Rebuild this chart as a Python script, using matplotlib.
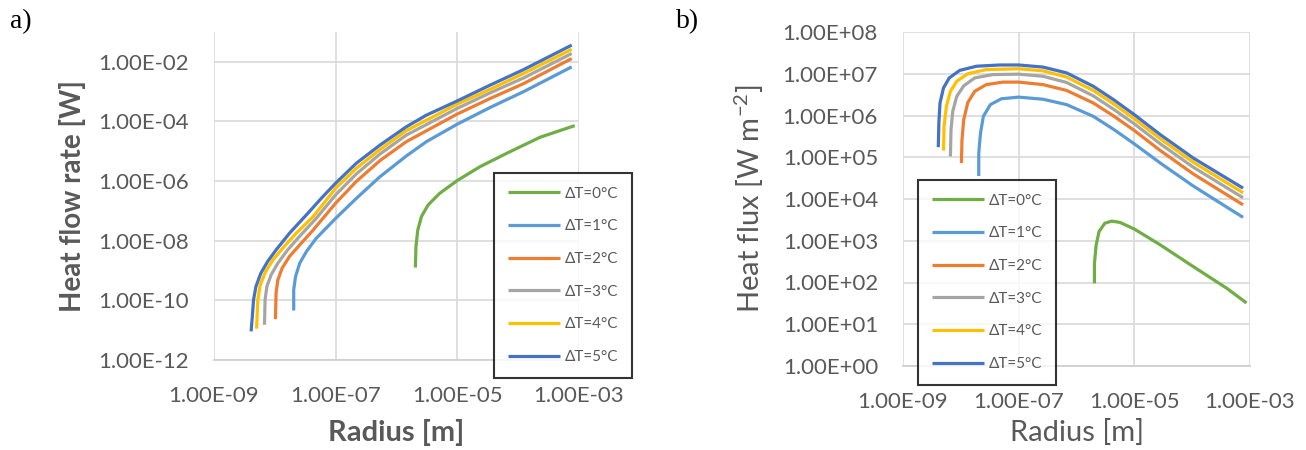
import numpy as np
import matplotlib
matplotlib.use("Agg")
import matplotlib.pyplot as plt

plt.rcParams['font.family'] = ['Lato', 'DejaVu Sans']
plt.rcParams['mathtext.fontset'] = 'custom'
plt.rcParams['mathtext.rm'] = 'Lato'

labels = ['ΔT=0°C', 'ΔT=1°C', 'ΔT=2°C', 'ΔT=3°C', 'ΔT=4°C', 'ΔT=5°C']
colors = ['#70AD47', '#5B9BD5', '#ED7D31', '#A5A5A5', '#FFC000', '#4472C4']

# a) heat flow rate, values as log10(radius [m]), log10(Q [W])
a_logr_0 = [-5.69, -5.68, -5.65, -5.59, -5.48, -5.29, -5.00, -4.63, -4.19, -3.64, -3.07]
a_logq_0 = [-8.90, -8.19, -7.64, -7.19, -6.80, -6.41, -5.98, -5.52, -5.07, -4.53, -4.14]
a_logr_1 = [-7.69, -7.69, -7.66, -7.59, -7.48, -7.32, -7.00, -6.66, -6.27, -5.84, -5.51, -5.00, -4.46, -3.91, -3.12]
a_logq_1 = [-10.34, -9.65, -9.20, -8.75, -8.36, -7.92, -7.25, -6.58, -5.85, -5.16, -4.68, -4.09, -3.53, -3.00, -2.17]
a_logr_2 = [-7.99, -7.98, -7.95, -7.88, -7.76, -7.59, -7.37, -7.00, -6.66, -6.27, -5.84, -5.00, -4.46, -3.91, -3.12]
a_logq_2 = [-10.63, -9.76, -9.31, -8.92, -8.53, -8.14, -7.64, -6.74, -6.01, -5.31, -4.68, -3.75, -3.23, -2.73, -1.89]
a_logr_3 = [-8.17, -8.16, -8.13, -8.06, -7.95, -7.79, -7.57, -7.32, -7.00, -6.66, -6.27, -5.84, -5.00, -4.46, -3.91, -3.12]
a_logq_3 = [-10.82, -9.98, -9.53, -9.14, -8.75, -8.31, -7.80, -7.25, -6.46, -5.76, -5.09, -4.46, -3.56, -3.04, -2.54, -1.72]
a_logr_4 = [-8.30, -8.28, -8.24, -8.15, -8.03, -7.87, -7.65, -7.37, -7.00, -6.66, -6.27, -5.84, -5.00, -4.46, -3.91, -3.12]
a_logq_4 = [-10.95, -9.98, -9.48, -9.03, -8.64, -8.25, -7.75, -7.19, -6.24, -5.57, -4.94, -4.31, -3.42, -2.92, -2.39, -1.58]
a_logr_5 = [-8.39, -8.37, -8.35, -8.31, -8.23, -8.12, -7.98, -7.76, -7.48, -7.21, -7.00, -6.66, -6.27, -5.84, -5.51, -5.00, -4.46, -3.91, -3.12]
a_logq_5 = [-11.04, -10.54, -9.98, -9.53, -9.09, -8.70, -8.31, -7.75, -7.13, -6.52, -6.07, -5.40, -4.79, -4.18, -3.79, -3.31, -2.78, -2.26, -1.44]

# b) heat flux, values as log10(radius [m]), log10(q [W m-2])
b_logr_0 = [-5.69, -5.69, -5.66, -5.61, -5.51, -5.39, -5.25, -5.00, -4.55, -3.98, -3.40, -3.06]
b_logq_0 = [1.98, 2.46, 2.90, 3.22, 3.42, 3.47, 3.44, 3.28, 2.90, 2.38, 1.86, 1.51]
b_logr_1 = [-7.69, -7.69, -7.66, -7.61, -7.49, -7.30, -7.00, -6.58, -6.17, -5.71, -5.36, -5.00, -4.55, -3.98, -3.12]
b_logq_1 = [4.55, 5.10, 5.58, 5.98, 6.26, 6.40, 6.44, 6.39, 6.26, 5.98, 5.67, 5.32, 4.86, 4.31, 3.56]
b_logr_2 = [-7.99, -7.98, -7.95, -7.88, -7.76, -7.56, -7.27, -7.00, -6.58, -6.17, -5.71, -5.36, -5.00, -4.55, -3.98, -3.12]
b_logq_2 = [4.86, 5.42, 5.90, 6.31, 6.58, 6.74, 6.80, 6.80, 6.74, 6.60, 6.30, 5.99, 5.64, 5.16, 4.60, 3.86]
b_logr_3 = [-8.18, -8.17, -8.14, -8.07, -7.95, -7.76, -7.45, -7.00, -6.58, -6.17, -5.71, -5.36, -5.00, -4.55, -3.98, -3.12]
b_logq_3 = [5.02, 5.66, 6.10, 6.46, 6.71, 6.90, 6.98, 6.99, 6.94, 6.79, 6.47, 6.15, 5.80, 5.32, 4.76, 4.03]
b_logr_4 = [-8.30, -8.29, -8.25, -8.18, -8.07, -7.88, -7.56, -7.00, -6.58, -6.17, -5.71, -5.36, -5.00, -4.55, -3.98, -3.12]
b_logq_4 = [5.16, 5.74, 6.22, 6.58, 6.82, 7.00, 7.10, 7.12, 7.07, 6.92, 6.60, 6.28, 5.92, 5.44, 4.88, 4.15]
b_logr_5 = [-8.39, -8.38, -8.36, -8.30, -8.20, -8.02, -7.73, -7.33, -7.00, -6.58, -6.17, -5.71, -5.36, -5.00, -4.55, -3.98, -3.12]
b_logq_5 = [5.24, 5.82, 6.30, 6.66, 6.90, 7.08, 7.18, 7.21, 7.21, 7.16, 7.02, 6.70, 6.38, 6.02, 5.54, 4.98, 4.26]

a_series = [(a_logr_0, a_logq_0), (a_logr_1, a_logq_1), (a_logr_2, a_logq_2),
            (a_logr_3, a_logq_3), (a_logr_4, a_logq_4), (a_logr_5, a_logq_5)]
b_series = [(b_logr_0, b_logq_0), (b_logr_1, b_logq_1), (b_logr_2, b_logq_2),
            (b_logr_3, b_logq_3), (b_logr_4, b_logq_4), (b_logr_5, b_logq_5)]

x_ticks = [1e-9, 1e-7, 1e-5, 1e-3]
a_yticks = [1e-12, 1e-10, 1e-8, 1e-6, 1e-4, 1e-2]
b_yticks = [1e0, 1e1, 1e2, 1e3, 1e4, 1e5, 1e6, 1e7, 1e8]

W, H = 1306, 450
fig = plt.figure(figsize=(W / 100, H / 100), dpi=100)
ax1 = fig.add_axes([214 / W, (H - 360) / H, 365 / W, 328 / H])
ax2 = fig.add_axes([903 / W, (H - 366) / H, 347 / W, 334 / H])

grey_txt = '#595959'
fmt = plt.FuncFormatter(lambda v, p: f"{v:.2E}")

def style(ax, yticks, ylim):
    ax.set_xscale('log')
    ax.set_yscale('log')
    ax.set_xlim(1e-9, 1e-3)
    ax.set_ylim(*ylim)
    ax.set_xticks(x_ticks)
    ax.set_yticks(yticks)
    ax.minorticks_off()
    ax.xaxis.set_major_formatter(fmt)
    ax.yaxis.set_major_formatter(fmt)
    ax.tick_params(length=0, labelsize=16, colors=grey_txt)
    ax.tick_params(axis='x', pad=19)
    ax.tick_params(axis='y', pad=18)
    ax.grid(True, color='#D9D9D9', lw=1.2)
    ax.set_axisbelow(True)
    for s in ['top', 'right', 'left']:
        ax.spines[s].set_visible(False)
    ax.spines['bottom'].set_color('#D0D0D0')
    ax.spines['bottom'].set_linewidth(1.3)

def draw(ax, series):
    handles = []
    for (lr, lq), c, lab in zip(series, colors, labels):
        h, = ax.plot(10 ** np.array(lr), 10 ** np.array(lq), color=c, lw=2.3,
                     label=lab, solid_capstyle='butt', solid_joinstyle='round')
        handles.append(h)
    return handles

style(ax1, a_yticks, (1e-12, 1e-1))
style(ax2, b_yticks, (1e0, 1e8))
h1 = draw(ax1, a_series)
h2 = draw(ax2, b_series)

ax1.set_xlabel('Radius [m]', fontsize=21, fontweight='bold', color=grey_txt)
ax1.set_ylabel('Heat flow rate [W]', fontsize=20, fontweight='bold', color=grey_txt)
ax1.xaxis.set_label_coords(0.5, -0.18)
ax1.yaxis.set_label_coords(-0.35, 0.5)

ax2.set_xlabel('Radius [m]', fontsize=21, color=grey_txt)
ax2.set_ylabel(r'Heat flux [W m$^{\mathrm{-2}}$]', fontsize=21, color=grey_txt)
ax2.xaxis.set_label_coords(0.5, -0.16)
ax2.yaxis.set_label_coords(-0.395, 0.5)

for ax, hs, (x0, y0) in [(ax1, h1, (494, 173)), (ax2, h2, (918, 180))]:
    leg = ax.legend(handles=hs, loc='upper left', bbox_to_anchor=(x0 / W, 1 - y0 / H),
                    bbox_transform=fig.transFigure, fontsize=11, frameon=True,
                    fancybox=False, edgecolor='black', handlelength=3.4,
                    handletextpad=0.35, labelspacing=1.22, borderpad=0.9,
                    borderaxespad=0, labelcolor=grey_txt)
    leg.get_frame().set_linewidth(1.5)
    leg.set_zorder(5)

fig.text(10 / W, 1 - 22 / H, 'a)', fontsize=20, family='Liberation Serif', va='center')
fig.text(676 / W, 1 - 22 / H, 'b)', fontsize=20, family='Liberation Serif', va='center')

fig.savefig('out.png', dpi=100)
